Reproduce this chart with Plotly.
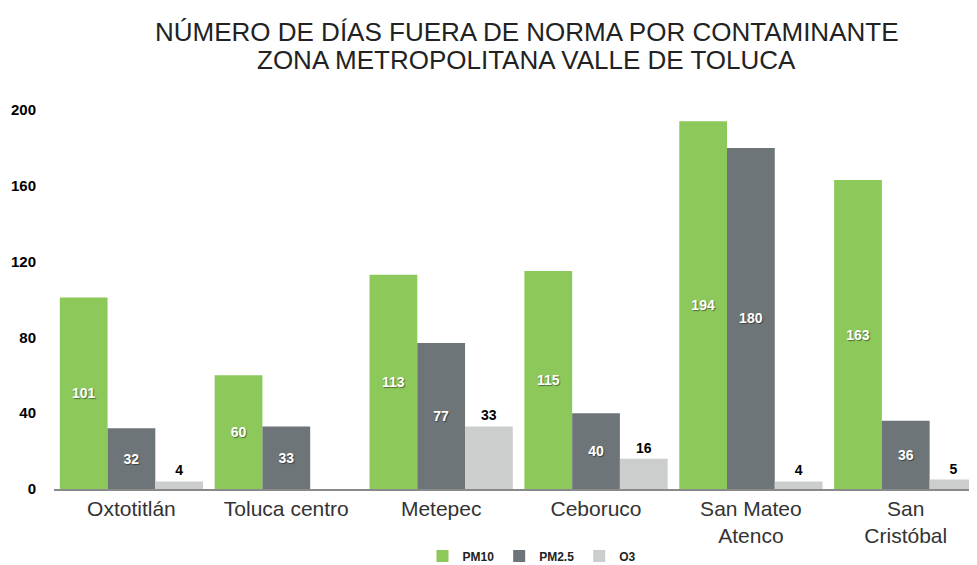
import plotly.graph_objects as go

categories = ["Oxtotitlán", "Toluca centro", "Metepec", "Ceboruco", "San Mateo<br>Atenco", "San<br>Cristóbal"]
pm10 = [101, 60, 113, 115, 194, 163]
pm25 = [32, 33, 77, 40, 180, 36]
o3 = [4, None, 33, 16, 4, 5]
y_ticks = [0, 40, 80, 120, 160, 200]
title_lines = ["NÚMERO DE DÍAS FUERA DE NORMA POR CONTAMINANTE", "ZONA METROPOLITANA VALLE DE TOLUCA"]

FONT = "Liberation Sans, Arial, Helvetica, sans-serif"
shadow = "1px 1px 1px rgba(0,0,0,0.45)"

OFF = 8  # page body margin
W, HGT = 977 - OFF, 565 - OFF
PLOT_LEFT = 54 - OFF
PLOT_TOP, PLOT_BOTTOM = 110 - OFF, 489 - OFF
H = PLOT_BOTTOM - PLOT_TOP
PW = W - PLOT_LEFT


def py(screen_px):
    return (PLOT_BOTTOM - (screen_px - OFF)) / H


def px(screen_px):
    return ((screen_px - OFF) - PLOT_LEFT) / PW


fig = go.Figure()
fig.add_trace(go.Bar(
    name="PM10", x=categories, y=pm10, marker_color="#8DC85B", marker_line_width=0,
    text=pm10, textposition="inside", insidetextanchor="middle",
    textfont=dict(family=FONT, size=14, color="white", weight="bold", shadow=shadow),
    textangle=0,
))
fig.add_trace(go.Bar(
    name="PM2.5", x=categories, y=pm25, marker_color="#6E7578", marker_line_width=0,
    text=pm25, textposition="inside", insidetextanchor="middle",
    textfont=dict(family=FONT, size=14, color="white", weight="bold", shadow=shadow),
    textangle=0,
))
fig.add_trace(go.Bar(
    name="O3", x=categories, y=o3, marker_color="#CCCDCD", marker_line_width=0,
    text=[v if v is not None else "" for v in o3], textposition="outside",
    textfont=dict(family=FONT, size=14, color="black", weight="bold"),
    textangle=0, cliponaxis=False,
))

for line, ypos in zip(title_lines, [32, 60]):
    fig.add_annotation(
        text=line, xref="paper", yref="paper", x=px(526), y=py(ypos),
        xanchor="center", yanchor="middle", showarrow=False,
        font=dict(family=FONT, size=26, color="#222222"),
    )

fig.update_layout(
    width=W, height=HGT,
    paper_bgcolor="white", plot_bgcolor="white",
    margin=dict(l=PLOT_LEFT, r=0, t=PLOT_TOP, b=HGT - PLOT_BOTTOM, autoexpand=False),
    barmode="group", bargap=0.075, bargroupgap=0,
    font=dict(family=FONT),
    legend=dict(
        orientation="h", x=px(532), xanchor="center", y=py(556), yanchor="middle",
        font=dict(family=FONT, size=12, color="#222222", weight="bold"),
        traceorder="normal",
    ),
    showlegend=True,
)
fig.update_xaxes(
    range=[-0.5, 5.46], showline=True, linecolor="#8a8a8a", linewidth=1.5,
    ticks="", showgrid=False, automargin=False,
    tickfont=dict(family=FONT, size=21, color="#333333"),
)
fig.update_yaxes(
    range=[0, 200], tickvals=y_ticks, showgrid=False, zeroline=False, showline=False,
    ticks="outside", ticklen=14, tickcolor="rgba(0,0,0,0)", automargin=False,
    tickfont=dict(family=FONT, size=15, color="black", weight="bold"),
)

fig.write_html("out.html")
